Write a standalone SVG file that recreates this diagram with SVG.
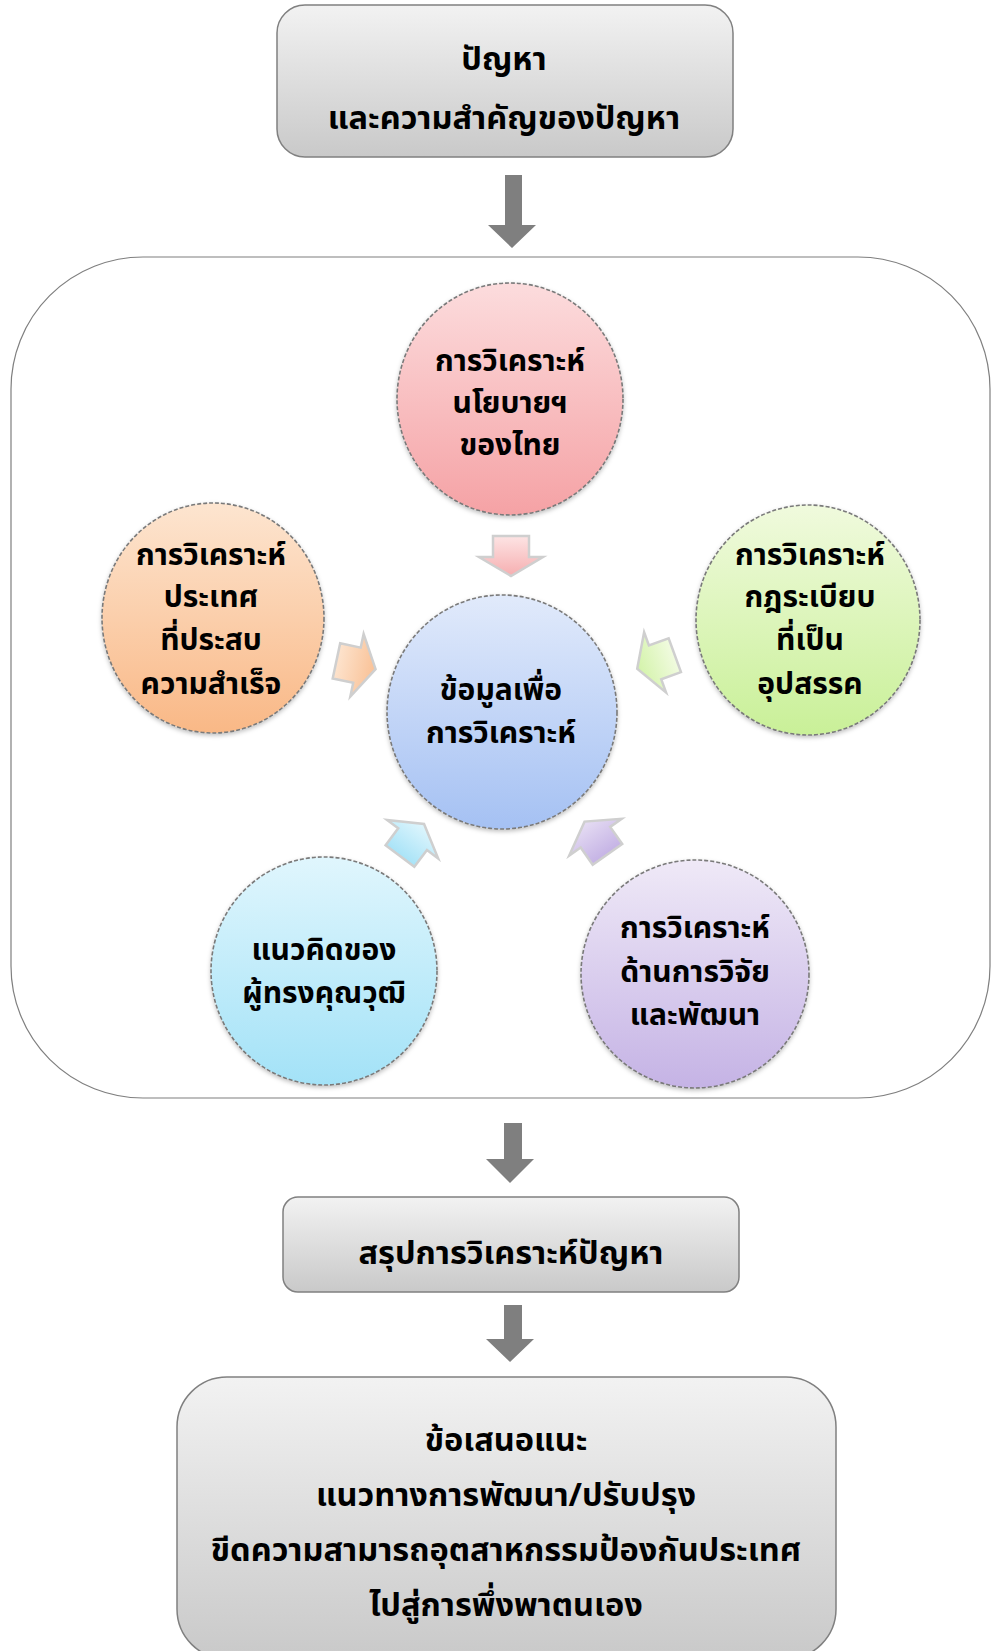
<svg xmlns="http://www.w3.org/2000/svg" width="992" height="1651" viewBox="0 0 992 1651">
<defs>
<linearGradient id="gBox" x1="0" y1="0" x2="0" y2="1"><stop offset="0" stop-color="#f2f2f2"/><stop offset="1" stop-color="#c9c9c9"/></linearGradient>
<linearGradient id="gPink" x1="0" y1="0" x2="0" y2="1"><stop offset="0" stop-color="#fcdcdd"/><stop offset="1" stop-color="#f5a2a5"/></linearGradient>
<linearGradient id="gOrange" x1="0" y1="0" x2="0" y2="1"><stop offset="0" stop-color="#fde5d0"/><stop offset="1" stop-color="#f9b886"/></linearGradient>
<linearGradient id="gGreen" x1="0" y1="0" x2="0" y2="1"><stop offset="0" stop-color="#f0fadd"/><stop offset="1" stop-color="#c9f098"/></linearGradient>
<linearGradient id="gBlue" x1="0" y1="0" x2="0" y2="1"><stop offset="0" stop-color="#e1eafb"/><stop offset="1" stop-color="#a5c1f3"/></linearGradient>
<linearGradient id="gCyan" x1="0" y1="0" x2="0" y2="1"><stop offset="0" stop-color="#e0f6fd"/><stop offset="1" stop-color="#a3e2f7"/></linearGradient>
<linearGradient id="gPurple" x1="0" y1="0" x2="0" y2="1"><stop offset="0" stop-color="#efe9f7"/><stop offset="1" stop-color="#c5b3e5"/></linearGradient>
<linearGradient id="aPink" x1="0" y1="0" x2="1" y2="0"><stop offset="0" stop-color="#fde4e4"/><stop offset="1" stop-color="#f6aeb0"/></linearGradient>
<linearGradient id="aOrange" x1="0" y1="0" x2="1" y2="0"><stop offset="0" stop-color="#fde3cd"/><stop offset="1" stop-color="#f9c196"/></linearGradient>
<linearGradient id="aGreen" x1="0" y1="0" x2="1" y2="0"><stop offset="0" stop-color="#f1fbe0"/><stop offset="1" stop-color="#d3f3a9"/></linearGradient>
<linearGradient id="aCyan" x1="0" y1="0" x2="1" y2="0"><stop offset="0" stop-color="#a8e3f7"/><stop offset="1" stop-color="#e0f6fd"/></linearGradient>
<linearGradient id="aPurple" x1="0" y1="0" x2="1" y2="0"><stop offset="0" stop-color="#c5b3e5"/><stop offset="1" stop-color="#e6ddf3"/></linearGradient>
<filter id="sh" x="-10%" y="-10%" width="120%" height="125%"><feDropShadow dx="0" dy="2" stdDeviation="2" flood-color="#000" flood-opacity="0.25"/></filter>
<polygon id="arr" points="-20,-18 1,-18 1,-32 20,0 1,32 1,18 -20,18"/>
</defs>
<style>
.box{stroke:#808080;stroke-width:1.5;fill:url(#gBox)}
.circ{stroke:#7a7a7a;stroke-width:1.6;stroke-dasharray:4 2;filter:url(#sh)}
.t{font-family:"Noto Sans Thai","Noto Sans",sans-serif;font-weight:bold;fill:#000;text-anchor:middle}
.ct{font-size:30px}
.bt{font-size:32.5px}
.ga{fill:#7f7f7f}
.sa{stroke:#cfcfcf;stroke-width:2.5;stroke-linejoin:miter}
</style>
<g id="frame"><rect x="11" y="257" width="979" height="841" rx="132" ry="132" fill="#fff" stroke="#7f7f7f" stroke-width="1.2"/></g>
<g id="box-problem"><rect class="box" x="277" y="5" width="456" height="152" rx="28"/>
<text class="t bt" x="504" y="70">ปัญหา</text>
<text class="t bt" x="504" y="129">และความสำคัญของปัญหา</text></g>
<g id="c-policy"><ellipse class="circ" cx="510" cy="399" rx="113" ry="116" fill="url(#gPink)"/>
<text class="t ct" x="510" y="371">การวิเคราะห์</text><text class="t ct" x="510" y="413">นโยบายฯ</text><text class="t ct" x="510" y="455">ของไทย</text></g>
<g id="c-country"><ellipse class="circ" cx="213" cy="618" rx="111" ry="115" fill="url(#gOrange)"/>
<text class="t ct" x="211" y="565">การวิเคราะห์</text><text class="t ct" x="211" y="607">ประเทศ</text><text class="t ct" x="211" y="650">ที่ประสบ</text><text class="t ct" x="211" y="694">ความสำเร็จ</text></g>
<g id="c-rules"><ellipse class="circ" cx="808" cy="620" rx="112" ry="115" fill="url(#gGreen)"/>
<text class="t ct" x="810" y="565">การวิเคราะห์</text><text class="t ct" x="810" y="607">กฎระเบียบ</text><text class="t ct" x="810" y="650">ที่เป็น</text><text class="t ct" x="810" y="694">อุปสรรค</text></g>
<g id="c-center"><ellipse class="circ" cx="502" cy="712" rx="115" ry="117" fill="url(#gBlue)"/>
<text class="t ct" x="501" y="700">ข้อมูลเพื่อ</text><text class="t ct" x="501" y="743">การวิเคราะห์</text></g>
<g id="c-experts"><ellipse class="circ" cx="324" cy="971" rx="113" ry="114" fill="url(#gCyan)"/>
<text class="t ct" x="324" y="960">แนวคิดของ</text><text class="t ct" x="324" y="1003">ผู้ทรงคุณวุฒิ</text></g>
<g id="c-research"><ellipse class="circ" cx="695" cy="974" rx="114" ry="114" fill="url(#gPurple)"/>
<text class="t ct" x="695" y="938">การวิเคราะห์</text><text class="t ct" x="695" y="982">ด้านการวิจัย</text><text class="t ct" x="695" y="1025">และพัฒนา</text></g>
<g id="box-summary"><rect class="box" x="283" y="1197" width="456" height="95" rx="15"/>
<text class="t bt" x="511" y="1264">สรุปการวิเคราะห์ปัญหา</text></g>
<g id="box-proposal"><rect class="box" x="177" y="1377" width="659" height="282" rx="50"/>
<text class="t bt" x="506" y="1451">ข้อเสนอแนะ</text>
<text class="t bt" x="506" y="1506">แนวทางการพัฒนา/ปรับปรุง</text>
<text class="t bt" x="506" y="1561">ขีดความสามารถอุตสาหกรรมป้องกันประเทศ</text>
<text class="t bt" x="506" y="1616">ไปสู่การพึ่งพาตนเอง</text></g>
<g id="connectors">
<polygon class="ga" points="505,175 522,175 522,225 536,225 512,248 488,225 505,225"/>
<polygon class="ga" points="504,1123 522,1123 522,1159 534,1159 510,1183 486,1159 504,1159"/>
<polygon class="ga" points="504,1305 522,1305 522,1339 534,1339 510,1362 486,1339 504,1339"/>
<use href="#arr" class="sa" fill="url(#aPink)" transform="translate(511,556) rotate(90)"/>
<use href="#arr" class="sa" fill="url(#aOrange)" transform="translate(356,665) rotate(12)"/>
<use href="#arr" class="sa" fill="url(#aGreen)" transform="translate(656,662) rotate(160)"/>
<use href="#arr" class="sa" fill="url(#aCyan)" transform="translate(412,840) rotate(-53)"/>
<use href="#arr" class="sa" fill="url(#aPurple)" transform="translate(596,838) rotate(-125)"/>
</g>
</svg>
